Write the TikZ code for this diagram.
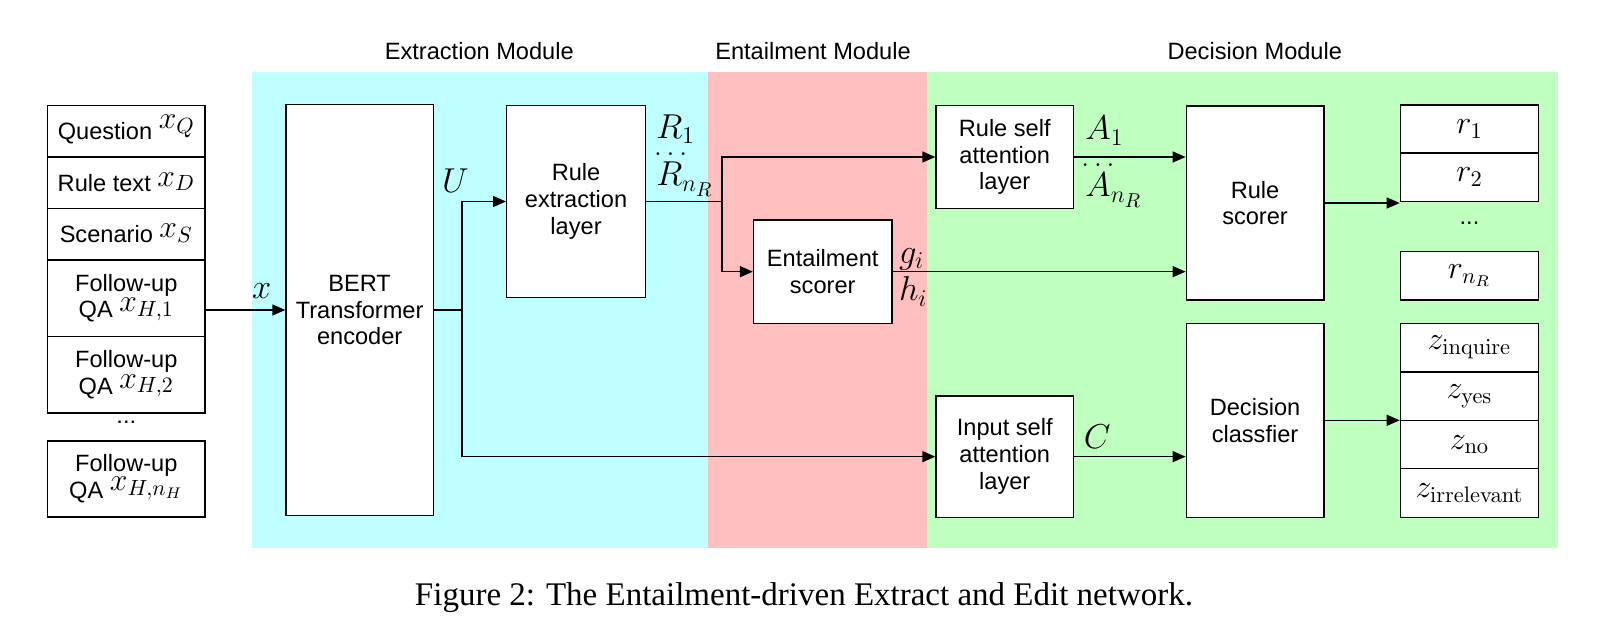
\documentclass[tikz,border=0pt]{standalone}
\usepackage{graphicx}
\usepackage[no-math]{fontspec}
\setmainfont{Liberation Sans}
\newfontfamily\capfont{Liberation Serif}
\usetikzlibrary{arrows.meta,fit}
\definecolor{bgcyan}{RGB}{191,255,255}
\definecolor{bgpink}{RGB}{255,191,191}
\definecolor{bggreen}{RGB}{191,255,191}
\newcommand\txtsize{\fontsize{11.8}{13.4}\selectfont}
\newcommand\mthsize{\fontsize{14.4}{16}\selectfont}
\newcommand\lblsize{\fontsize{17.28}{19}\selectfont}
\newcommand\mx[2]{\raisebox{#1}[0pt][0pt]{\scalebox{1.1}{\mthsize$#2$}}}
\newcommand\mz[1]{\scalebox{1.12}{\mthsize$#1$}}
\tikzset{
  box/.style={draw, line width=0.7pt, fill=white, inner sep=0pt},
  txt/.style={inner sep=0pt, align=center, font=\txtsize},
  conn/.style={line width=0.7pt},
  arr/.style={conn, -{Triangle[length=6.5pt,width=5.5pt]}},
  lab/.style={inner sep=0pt, anchor=base west, font=\lblsize},
  ttl/.style={inner sep=0pt, anchor=base, font=\txtsize},
}
\begin{document}
\begin{tikzpicture}[x=0.5pt,y=-0.5pt]
\useasboundingbox (0,0) rectangle (1608,641);
% backgrounds
\fill[bgcyan] (252,72) rectangle (707.7,548);
\fill[bgpink] (707.7,72) rectangle (927,548);
\fill[bggreen] (927,72) rectangle (1558,548);
% titles
\node[ttl] (t1) at (479.3,59.5) {Extraction Module};
\node[ttl] (t2) at (813,59.5) {Entailment Module};
\node[ttl] (t3) at (1254.8,59.5) {Decision Module};
% input stack
\node[box, fit={(47.7,105.7)(205,157)}] (q) {};
\node[box, fit={(47.7,157)(205,208.7)}] (d) {};
\node[box, fit={(47.7,208.7)(205,260)}] (s) {};
\node[box, fit={(47.7,260)(205,336.3)}] (f1) {};
\node[box, fit={(47.7,336.3)(205,413)}] (f2) {};
\node[box, fit={(47.7,441)(205,517)}] (fn) {};
\node[txt, yshift=-1pt] (q-t) at (q.center) {Question \mx{5.6pt}{x_Q}};
\node[txt] (d-t) at (d.center) {Rule text \mx{2.6pt}{x_D}};
\node[txt] (s-t) at (s.center) {Scenario \mx{2.4pt}{x_S}};
\node[txt] (f1-t) at (f1.center) {Follow-up\\QA \mx{3.1pt}{x_{H,1}}};
\node[txt] (f2-t) at (f2.center) {Follow-up\\QA \mx{3.1pt}{x_{H,2}}};
\node[txt] (fn-t) at (fn.center) {Follow-up\\QA \mx{4pt}{x_{H,n_H}}};
\node[ttl] (fdots) at (126.3,423.5) {...};
% main boxes
\node[box, fit={(286,104.7)(433.3,515.3)}] (bert) {};
\node[box, fit={(506.7,105.7)(645.4,297.3)}] (rext) {};
\node[box, fit={(753.6,220)(891.8,323.3)}] (ent) {};
\node[box, fit={(936,105.3)(1073.5,208.7)}] (rsa) {};
\node[box, fit={(936,396)(1073.5,517.3)}] (isa) {};
\node[box, fit={(1186.3,106)(1323.8,300)}] (rs) {};
\node[box, fit={(1186.3,323.3)(1323.8,517.3)}] (dc) {};
\node[txt] (bert-t) at (bert.center) {BERT\\Transformer\\encoder};
\node[txt] (rext-t) at (rext.center) {Rule\\extraction\\layer};
\node[txt] (ent-t) at (ent.center) {Entailment\\scorer};
\node[txt] (rsa-t) at (rsa.center) {Rule self\\attention\\layer};
\node[txt] (isa-t) at (isa.center) {Input self\\attention\\layer};
\node[txt] (rs-t) at (rs.center) {Rule\\scorer};
\node[txt] (dc-t) at (dc.center) {Decision\\classfier};
% outputs
\node[box, fit={(1400.4,105)(1538.7,153)}] (r1) {};
\node[box, fit={(1400.4,153)(1538.7,201.7)}] (r2) {};
\node[box, fit={(1400.4,251.3)(1538.7,300)}] (rn) {};
\node[box, fit={(1400.4,323.3)(1538.7,372)}] (zi) {};
\node[box, fit={(1400.4,372)(1538.7,420.3)}] (zy) {};
\node[box, fit={(1400.4,420.3)(1538.7,468.7)}] (zn) {};
\node[box, fit={(1400.4,468.7)(1538.7,517.3)}] (zr) {};
\node[txt] (r1-t) at (r1.center) {\mz{r_1}};
\node[txt] (r2-t) at (r2.center) {\mz{r_2}};
\node[txt] (rn-t) at (rn.center) {\mz{r_{n_R}}};
\node[txt] (zi-t) at (zi.center) {\mz{z_{\mathrm{inquire}}}};
\node[txt] (zy-t) at (zy.center) {\mz{z_{\mathrm{yes}}}};
\node[txt] (zn-t) at (zn.center) {\mz{z_{\mathrm{no}}}};
\node[txt] (zr-t) at (zr.center) {\mz{z_{\mathrm{irrelevant}}}};
\node[ttl] (rdots) at (1469.5,224.5) {...};
% connectors
\coordinate (bx) at (462,310);
\coordinate (rb) at (721.8,201.5);
\draw[arr] (f1.east |- bert.west) -- (bert.west);
\draw[conn] (bert.east) -- (bx);
\draw[arr] (bx) |- (rext.west);
\draw[arr] (bx) |- (isa.west);
\draw[conn] (rext.east) -- (rb);
\draw[arr] (rb) |- (rsa.west);
\draw[arr] (rb) |- (ent.west);
\draw[arr] (ent.east) -- (ent.east -| rs.west);
\draw[arr] (rsa.east) -- (rsa.east -| rs.west);
\draw[arr] (rs.east) -- (rs.east -| r2.south west);
\draw[arr] (isa.east) -- (isa.east -| dc.west);
\draw[arr] (dc.east) -- (dc.east -| zy.south west);
% labels
\node[inner sep=0pt, anchor=base, font=\lblsize] (lx) at (261.7,298.3) {$x$};
\node[lab] (lu) at (441.7,192.3) {$U$};
\node[lab] (lr1) at (656,138.3) {$R_1$};
\node[inner sep=0pt, anchor=base, font=\mthsize] (lrd) at (670.7,155.5) {$.\,.\,.$};
\node[lab] (lrn) at (656,186) {$R_{n_R}$};
\node[lab] (lg) at (898.6,263.3) {$g_i$};
\node[lab] (lh) at (898.6,301) {$h_i$};
\node[lab] (la1) at (1085,140) {$A_1$};
\node[inner sep=0pt, anchor=base, font=\mthsize] (lad) at (1098,167) {$.\,.\,.$};
\node[lab] (lan) at (1085,197) {$A_{n_R}$};
\node[lab] (lc) at (1083.4,448.3) {$C$};
% caption
\node[inner sep=0pt, anchor=base, font=\capfont\fontsize{16.5}{19}\selectfont] (cap) at (804,606) {Figure 2: The Entailment-driven Extract and Edit network.};
\end{tikzpicture}
\end{document}
